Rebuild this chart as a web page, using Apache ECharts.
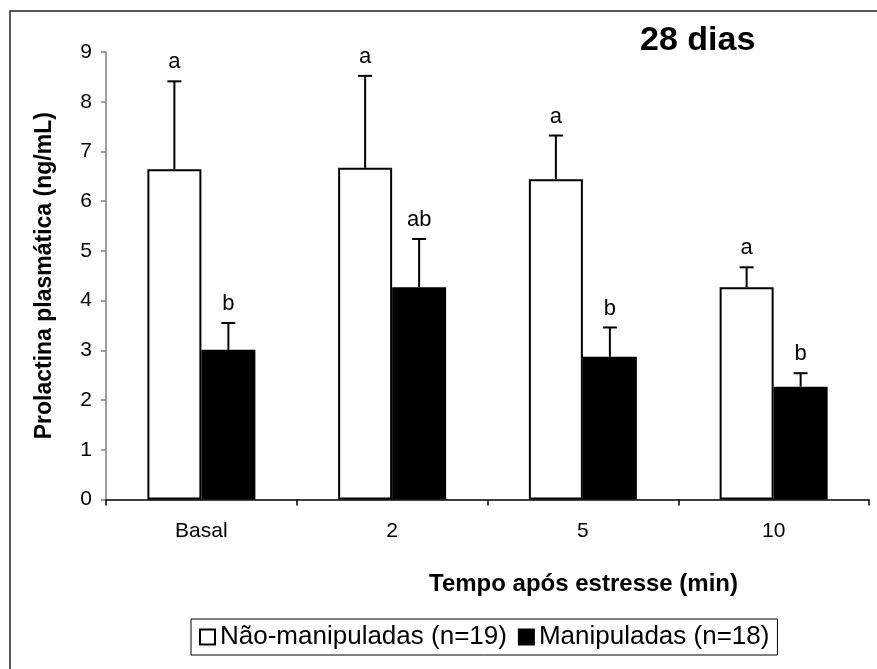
<!DOCTYPE html>
<html>
<head>
<meta charset="utf-8">
<script src="https://cdn.jsdelivr.net/npm/echarts@6/dist/echarts.min.js"></script>
<style>
html,body{margin:0;padding:0;background:#fff;}
#chart{width:877px;height:669px;}
</style>
</head>
<body>
<div id="chart"></div>
<script>
var categories = ['Basal', '2', '5', '10'];
var naoManipuladas = [6.64, 6.67, 6.44, 4.27];
var naoManipuladasErr = [1.77, 1.85, 0.88, 0.40];
var naoManipuladasLetters = ['a', 'a', 'a', 'a'];
var manipuladas = [3.01, 4.27, 2.87, 2.27];
var manipuladasErr = [0.54, 0.97, 0.59, 0.27];
var manipuladasLetters = ['b', 'ab', 'b', 'b'];
var yTicks = [0, 1, 2, 3, 4, 5, 6, 7, 8, 9];

var FONT = '"Liberation Sans", Arial, sans-serif';
var BAR_W = 54;

function errorSeries(name, values, errs, letters, side) {
  var data = values.map(function (v, i) { return [i, v, v + errs[i], letters[i]]; });
  return {
    type: 'custom',
    name: name + ' erro',
    silent: true,
    z: 5,
    data: data,
    encode: { x: 0, y: [1, 2] },
    renderItem: function (params, api) {
      var base = api.coord([api.value(0), api.value(1)]);
      var top = api.coord([api.value(0), api.value(2)]);
      var x = base[0] + side * BAR_W / 2;
      var cap = 7;
      return {
        type: 'group',
        children: [
          { type: 'line', shape: { x1: x, y1: base[1], x2: x, y2: top[1] }, style: { stroke: '#000', lineWidth: 2 } },
          { type: 'line', shape: { x1: x - cap, y1: top[1], x2: x + cap, y2: top[1] }, style: { stroke: '#000', lineWidth: 2 } },
          { type: 'text', x: x, y: top[1] - 8, style: { text: data[params.dataIndex][3], fill: '#000', font: '22px ' + FONT, align: 'center', verticalAlign: 'bottom' } }
        ]
      };
    }
  };
}

var chart = echarts.init(document.getElementById('chart'), null, { renderer: 'canvas' });
chart.setOption({
  animation: false,
  backgroundColor: '#fff',
  textStyle: { fontFamily: FONT },
  title: {
    text: '28 dias',
    left: 635,
    top: 19,
    textStyle: { fontFamily: FONT, fontWeight: 'bold', fontSize: 34, color: '#000' }
  },
  graphic: [
    { type: 'rect', silent: true, shape: { x: 10, y: 11, width: 900, height: 700 }, style: { fill: 'none', stroke: '#222', lineWidth: 1.5 } }
  ],
  legend: {
    left: 191,
    top: 619,
    orient: 'horizontal',
    borderColor: '#000',
    borderWidth: 1,
    borderRadius: 0,
    padding: [5, 8, 5, 8],
    itemGap: 11,
    itemWidth: 15,
    itemHeight: 15,
    icon: 'rect',
    textStyle: { fontFamily: FONT, fontSize: 26, color: '#000' },
    data: ['Não-manipuladas (n=19)', 'Manipuladas (n=18)']
  },
  grid: { left: 106, right: 8, top: 52, bottom: 169.5, containLabel: false },
  xAxis: {
    type: 'category',
    data: categories,
    name: 'Tempo após estresse (min)',
    nameLocation: 'middle',
    nameGap: 73,
    nameTextStyle: { fontFamily: FONT, fontWeight: 'bold', fontSize: 24, color: '#000', padding: [0, 0, 0, 192] },
    axisLine: { show: true, lineStyle: { color: '#000', width: 1.5 } },
    axisTick: { show: true, inside: false, length: 6, lineStyle: { color: '#000', width: 1.5 } },
    axisLabel: { margin: 21, fontSize: 21, color: '#000', fontFamily: FONT },
    splitLine: { show: false }
  },
  yAxis: {
    type: 'value',
    min: 0,
    max: 9,
    interval: 1,
    name: 'Prolactina plasmática (ng/mL)',
    nameLocation: 'middle',
    nameGap: 50,
    nameTextStyle: { fontFamily: FONT, fontWeight: 'bold', fontSize: 23, color: '#000' },
    axisLine: { show: true, lineStyle: { color: '#808080', width: 1.5 } },
    axisTick: { show: true, inside: false, length: 5, lineStyle: { color: '#808080', width: 1.5 } },
    axisLabel: { margin: 14, fontSize: 21, color: '#000', fontFamily: FONT,
      formatter: function (v) { return yTicks.indexOf(v) >= 0 ? String(v) : ''; } },
    splitLine: { show: false }
  },
  series: [
    {
      type: 'bar',
      name: 'Não-manipuladas (n=19)',
      data: naoManipuladas,
      barWidth: BAR_W,
      barGap: '0%',
      itemStyle: { color: '#fff', borderColor: '#000', borderWidth: 2 }
    },
    {
      type: 'bar',
      name: 'Manipuladas (n=18)',
      data: manipuladas,
      barWidth: BAR_W,
      barGap: '0%',
      itemStyle: { color: '#000', borderColor: '#000', borderWidth: 2 }
    },
    errorSeries('Não-manipuladas', naoManipuladas, naoManipuladasErr, naoManipuladasLetters, -1),
    errorSeries('Manipuladas', manipuladas, manipuladasErr, manipuladasLetters, 1)
  ]
});
</script>
</body>
</html>
